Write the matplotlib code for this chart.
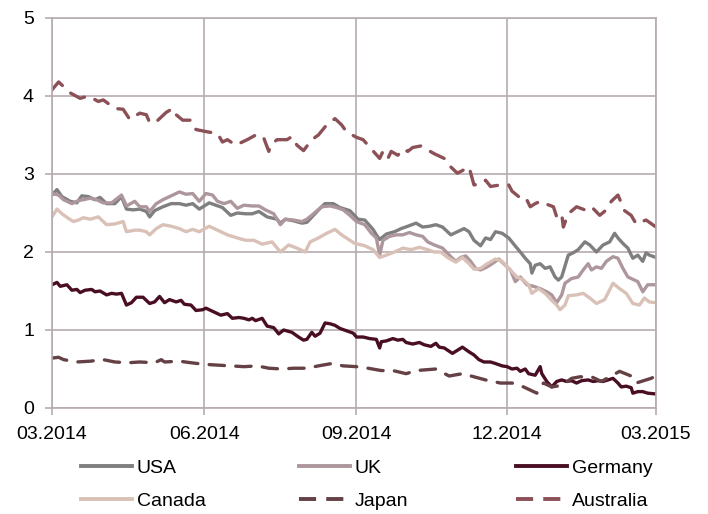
import matplotlib
matplotlib.use("Agg")
import matplotlib.pyplot as plt
from matplotlib.lines import Line2D

# x = days since 1 March 2014
tick_days = [0, 92, 184, 275, 365]
tick_labels = ["03.2014", "06.2014", "09.2014", "12.2014", "03.2015"]
y_ticks = [0, 1, 2, 3, 4, 5]

usa_x = [0, 3, 6, 11, 15, 18, 22, 26, 29, 33, 38, 42, 45, 49, 53, 57, 59, 62, 67, 72, 77, 81, 85, 89,
         95, 99, 103, 108, 112, 117, 121, 125, 130, 136, 138, 141, 146, 151, 154, 158, 162, 165, 170, 174,
         180, 185, 189, 194, 196, 198, 202, 207, 211, 215, 220, 224, 228, 232, 236, 241, 245, 249, 252,
         255, 259, 262, 265, 268, 272, 276, 281, 283, 286, 289, 290, 292, 295, 298, 301, 304, 306, 308,
         312, 315, 318, 322, 325, 329, 333, 337, 340, 342, 345, 348, 351, 354, 357, 359, 361, 365]
usa_y = [2.73, 2.80, 2.71, 2.65, 2.63, 2.72, 2.71, 2.67, 2.70, 2.62, 2.62, 2.71, 2.55, 2.54, 2.55, 2.52,
         2.45, 2.53, 2.58, 2.62, 2.62, 2.60, 2.62, 2.55, 2.63, 2.60, 2.57, 2.47, 2.50, 2.49, 2.49, 2.52,
         2.45, 2.42, 2.37, 2.42, 2.40, 2.37, 2.38, 2.47, 2.56, 2.62, 2.62, 2.57, 2.53, 2.42, 2.41, 2.29,
         2.22, 2.16, 2.23, 2.26, 2.30, 2.33, 2.37, 2.32, 2.33, 2.35, 2.32, 2.22, 2.26, 2.30, 2.26, 2.15,
         2.08, 2.18, 2.16, 2.26, 2.24, 2.18, 2.05, 2.00, 1.92, 1.85, 1.73, 1.83, 1.85, 1.79, 1.81, 1.68,
         1.64, 1.68, 1.96, 1.99, 2.03, 2.13, 2.09, 2.00, 2.09, 2.13, 2.24, 2.18, 2.11, 2.05, 1.92, 1.96,
         1.88, 1.99, 1.96, 1.93]

uk_x = [0, 4, 7, 12, 16, 19, 23, 27, 31, 36, 42, 45, 50, 53, 57, 59, 63, 67, 72, 77, 81, 85, 89, 93, 97,
        100, 104, 108, 112, 116, 121, 125, 129, 134, 138, 141, 146, 151, 154, 158, 163, 168, 172, 176, 180,
        184, 189, 193, 196, 198, 200, 204, 208, 212, 216, 220, 224, 227, 231, 236, 241, 244, 247, 250, 253,
        256, 259, 263, 266, 270, 273, 277, 280, 283, 287, 291, 295, 299, 302, 305, 308, 310, 314, 318, 321,
        324, 326, 329, 332, 335, 339, 342, 345, 348, 352, 354, 357, 360, 365]
uk_y = [2.75, 2.73, 2.67, 2.62, 2.66, 2.67, 2.69, 2.67, 2.63, 2.63, 2.73, 2.59, 2.65, 2.58, 2.58, 2.52,
        2.62, 2.67, 2.72, 2.77, 2.74, 2.75, 2.65, 2.75, 2.73, 2.65, 2.62, 2.65, 2.56, 2.60, 2.59, 2.59,
        2.54, 2.49, 2.35, 2.42, 2.41, 2.39, 2.42, 2.49, 2.58, 2.59, 2.57, 2.54, 2.47, 2.39, 2.35, 2.24,
        2.18, 1.96, 2.15, 2.20, 2.22, 2.22, 2.25, 2.22, 2.20, 2.13, 2.09, 2.05, 1.94, 1.88, 1.93, 1.95,
        1.88, 1.79, 1.77, 1.81, 1.85, 1.91, 1.85, 1.77, 1.62, 1.68, 1.58, 1.56, 1.53, 1.49, 1.45, 1.35,
        1.45, 1.60, 1.66, 1.68, 1.77, 1.85, 1.77, 1.81, 1.79, 1.88, 1.94, 1.92, 1.79, 1.68, 1.64, 1.62,
        1.49, 1.58, 1.58]

germany_x = [0, 3, 5, 9, 12, 15, 17, 20, 24, 26, 29, 33, 36, 39, 42, 45, 48, 51, 55, 59, 62, 65, 68, 71,
             75, 78, 80, 84, 87, 91, 93, 97, 102, 106, 109, 113, 116, 119, 121, 123, 127, 130, 134, 137,
             140, 145, 149, 152, 154, 157, 159, 162, 165, 168, 171, 174, 178, 182, 184, 188, 192, 196, 198,
             199, 202, 206, 209, 212, 214, 218, 222, 225, 229, 232, 234, 237, 242, 245, 248, 252, 255, 258,
             261, 265, 268, 272, 275, 278, 281, 283, 286, 288, 292, 295, 296, 299, 302, 305, 308, 311, 314,
             317, 320, 324, 327, 330, 333, 336, 339, 342, 344, 347, 350, 351, 354, 357, 360, 365]
germany_y = [1.58, 1.61, 1.56, 1.58, 1.51, 1.52, 1.48, 1.51, 1.52, 1.49, 1.50, 1.45, 1.47, 1.46, 1.47,
             1.32, 1.35, 1.42, 1.42, 1.34, 1.36, 1.43, 1.35, 1.39, 1.36, 1.38, 1.33, 1.32, 1.25, 1.26,
             1.28, 1.24, 1.19, 1.21, 1.15, 1.16, 1.15, 1.13, 1.15, 1.12, 1.15, 1.05, 1.03, 0.95, 1.00,
             0.97, 0.91, 0.87, 0.88, 0.97, 0.92, 0.96, 1.09, 1.08, 1.06, 1.02, 0.99, 0.96, 0.91, 0.91,
             0.89, 0.88, 0.77, 0.85, 0.86, 0.89, 0.87, 0.88, 0.84, 0.82, 0.84, 0.81, 0.79, 0.83, 0.78,
             0.77, 0.70, 0.74, 0.78, 0.72, 0.68, 0.62, 0.59, 0.59, 0.57, 0.54, 0.53, 0.50, 0.51, 0.47,
             0.50, 0.44, 0.42, 0.53, 0.44, 0.34, 0.27, 0.34, 0.36, 0.34, 0.35, 0.32, 0.35, 0.36, 0.34,
             0.35, 0.34, 0.36, 0.38, 0.32, 0.27, 0.28, 0.26, 0.19, 0.21, 0.21, 0.19, 0.18]

canada_x = [0, 3, 6, 10, 13, 16, 19, 23, 28, 33, 38, 43, 45, 50, 53, 57, 59, 63, 67, 72, 77, 81, 85, 89,
            95, 100, 106, 112, 117, 122, 127, 133, 138, 143, 148, 153, 156, 161, 166, 171, 175, 180, 183,
            189, 194, 198, 202, 207, 212, 217, 222, 227, 231, 235, 239, 244, 248, 252, 255, 259, 263, 268,
            272, 276, 281, 285, 288, 290, 294, 298, 302, 305, 307, 310, 312, 317, 321, 325, 329, 334, 339,
            343, 347, 351, 355, 358, 361, 365]
canada_y = [2.45, 2.55, 2.49, 2.43, 2.39, 2.41, 2.44, 2.42, 2.45, 2.35, 2.36, 2.39, 2.26, 2.28, 2.28,
            2.26, 2.22, 2.30, 2.35, 2.33, 2.30, 2.26, 2.29, 2.26, 2.33, 2.28, 2.22, 2.18, 2.15, 2.15,
            2.10, 2.13, 2.00, 2.09, 2.05, 2.00, 2.13, 2.18, 2.24, 2.29, 2.22, 2.15, 2.11, 2.08, 2.03,
            1.93, 1.96, 2.00, 2.05, 2.03, 2.06, 2.03, 2.00, 2.00, 1.93, 1.87, 1.93, 1.85, 1.78, 1.79,
            1.85, 1.91, 1.88, 1.79, 1.68, 1.64, 1.58, 1.47, 1.53, 1.47, 1.38, 1.32, 1.26, 1.32, 1.44,
            1.45, 1.47, 1.41, 1.34, 1.39, 1.60, 1.53, 1.47, 1.34, 1.32, 1.41, 1.36, 1.35]

japan_x = [0, 4, 7, 15, 23, 31, 38, 46, 53, 62, 66, 68, 77, 84, 92, 100, 108, 116, 124, 131, 139, 146,
           154, 161, 169, 176, 184, 191, 199, 206, 214, 220, 226, 232, 240, 248, 255, 262, 271, 278, 285,
           293, 297, 302, 308, 314, 319, 326, 332, 337, 343, 350, 353, 362, 365]
japan_y = [0.64, 0.65, 0.62, 0.59, 0.60, 0.62, 0.59, 0.58, 0.59, 0.58, 0.62, 0.59, 0.60, 0.58, 0.56,
           0.55, 0.54, 0.53, 0.54, 0.51, 0.50, 0.51, 0.51, 0.54, 0.57, 0.54, 0.53, 0.51, 0.48, 0.48,
           0.44, 0.48, 0.49, 0.50, 0.41, 0.44, 0.40, 0.36, 0.32, 0.32, 0.27, 0.19, 0.32, 0.27, 0.29,
           0.38, 0.40, 0.40, 0.34, 0.40, 0.47, 0.41, 0.32, 0.38, 0.41]

australia_x = [0, 4, 11, 17, 22, 28, 31, 38, 43, 47, 53, 57, 59, 63, 69, 73, 75, 79, 84, 87, 94, 100, 103,
               106, 111, 118, 124, 128, 131, 132, 136, 142, 145, 148, 152, 157, 161, 166, 171, 175, 178,
               184, 188, 193, 198, 200, 203, 205, 209, 212, 215, 218, 223, 226, 231, 238, 241, 245, 252,
               255, 259, 262, 265, 271, 276, 278, 282, 286, 289, 292, 295, 298, 303, 305, 308, 309, 312,
               317, 322, 326, 331, 335, 338, 342, 346, 350, 353, 359, 365]
australia_y = [4.08, 4.18, 4.04, 3.97, 4.00, 3.93, 3.95, 3.84, 3.83, 3.70, 3.78, 3.76, 3.66, 3.67, 3.79,
               3.84, 3.76, 3.69, 3.69, 3.57, 3.54, 3.52, 3.41, 3.44, 3.37, 3.44, 3.51, 3.46, 3.29, 3.37,
               3.44, 3.44, 3.48, 3.37, 3.30, 3.44, 3.50, 3.63, 3.71, 3.63, 3.54, 3.47, 3.44, 3.32, 3.20,
               3.29, 3.20, 3.29, 3.24, 3.32, 3.29, 3.34, 3.36, 3.32, 3.26, 3.19, 3.09, 3.01, 3.09, 2.86,
               2.87, 2.92, 2.84, 2.86, 2.86, 2.78, 2.71, 2.71, 2.58, 2.62, 2.65, 2.62, 2.58, 2.45, 2.49,
               2.32, 2.49, 2.58, 2.54, 2.58, 2.47, 2.54, 2.65, 2.73, 2.53, 2.47, 2.36, 2.41, 2.32]

series = [
    ("USA", usa_x, usa_y, "#7f7f7f", "-"),
    ("UK", uk_x, uk_y, "#ad979c", "-"),
    ("Germany", germany_x, germany_y, "#4a0e24", "-"),
    ("Canada", canada_x, canada_y, "#d9c1b7", "-"),
    ("Japan", japan_x, japan_y, "#654045", "--"),
    ("Australia", australia_x, australia_y, "#8c5157", "--"),
]

plt.rcParams["font.family"] = ["Liberation Sans", "DejaVu Sans"]
GRID = "#b6acaf"

fig = plt.figure(figsize=(7.08, 5.14), dpi=100)
ax = fig.add_axes([52 / 708, 1 - 408 / 514, 604 / 708, 390 / 514])

handles = []
for name, xs, ys, col, ls in series:
    if ls == "--":
        ln, = ax.plot(xs, ys, color=col, lw=2.4, linestyle=(0, (4.6, 3.4)),
                      dash_capstyle="round", solid_joinstyle="round")
    else:
        ln, = ax.plot(xs, ys, color=col, lw=2.4, solid_joinstyle="round",
                      solid_capstyle="round")
    handles.append(Line2D([0], [0], color=col, lw=2.8,
                          linestyle=(0, (4.4, 2.6)) if ls == "--" else "-"))

ax.set_xlim(0, 365)
ax.set_ylim(0, 5)
ax.set_xticks(tick_days)
ax.set_xticklabels(tick_labels)
ax.set_yticks(y_ticks)
ax.grid(True, color=GRID, lw=1.2)
ax.set_axisbelow(True)
for s in ax.spines.values():
    s.set_color(GRID)
    s.set_linewidth(1.2)
ax.tick_params(axis="both", colors=GRID, length=5, width=1.2, labelsize=14,
               labelcolor="#000000", pad=8)

names = [s[0] for s in series]
# three legend columns placed individually
col_x = [84, 302, 519]
for c in range(3):
    idx = [c, c + 3]
    leg = fig.legend([handles[i] for i in idx], [names[i] for i in idx],
                     loc="upper left", bbox_to_anchor=(col_x[c] / 708 - 0.004, 1 - 459 / 514),
                     frameon=False, fontsize=14, handlelength=2.6, handletextpad=0.25,
                     labelspacing=0.8, borderpad=0, borderaxespad=0)

fig.savefig("out.png", dpi=100)
